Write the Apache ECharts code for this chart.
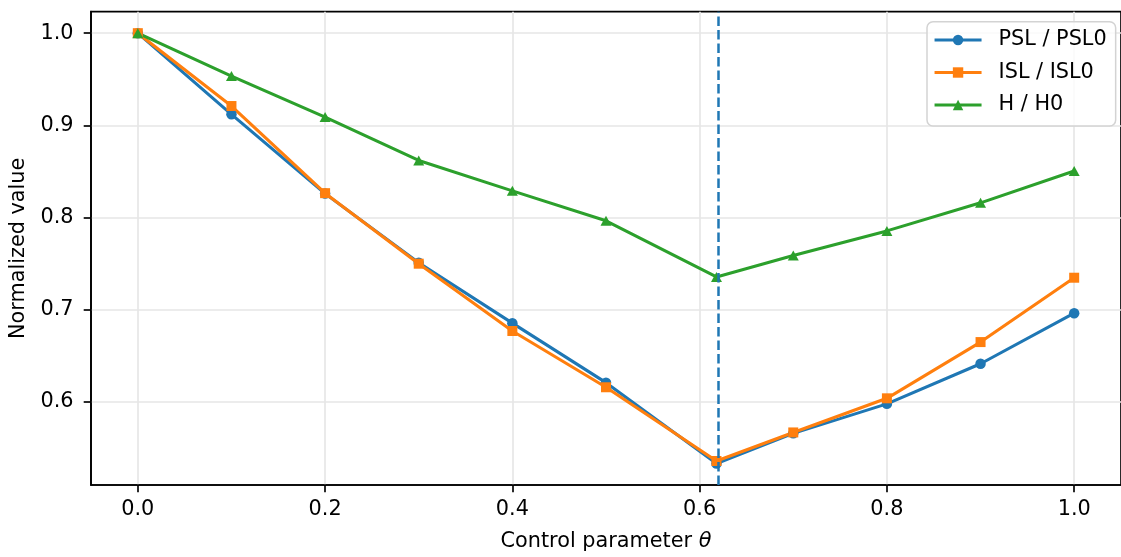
<!DOCTYPE html>
<html>
<head>
<meta charset="utf-8">
<script src="https://cdn.jsdelivr.net/npm/echarts@6/dist/echarts.min.js"></script>
<style>
html,body{margin:0;padding:0;background:#fff;}
#chart{width:1121px;height:557px;}
</style>
</head>
<body>
<div id="chart"></div>
<script>
// Data
const theta = [0.0, 0.1, 0.2, 0.3, 0.4, 0.5, 0.618, 0.7, 0.8, 0.9, 1.0];
const pslRatio = [1.0, 0.912, 0.826, 0.751, 0.6855, 0.621, 0.5333, 0.566, 0.598, 0.6415, 0.6963];
const islRatio = [1.0, 0.921, 0.8265, 0.750, 0.677, 0.616, 0.536, 0.567, 0.604, 0.665, 0.7348];
const hRatio = [1.0, 0.9535, 0.909, 0.862, 0.829, 0.7965, 0.7356, 0.7588, 0.7856, 0.816, 0.8506];
const seriesNames = ['PSL / PSL0', 'ISL / ISL0', 'H / H0'];
const xTicks = [0.0, 0.2, 0.4, 0.6, 0.8, 1.0];
const yTicks = [0.6, 0.7, 0.8, 0.9, 1.0];
const markTheta = 0.618;

const FONT = 'DejaVu Sans';
const FS = 20.8;
const zip = (xs, ys) => xs.map((x, i) => [x, ys[i]]);

const chart = echarts.init(document.getElementById('chart'), null, {renderer: 'canvas'});

function lineSeries(name, values, color, symbol, size) {
  return {
    name: name,
    type: 'line',
    data: zip(theta, values),
    symbol: symbol,
    symbolSize: size,
    showAllSymbol: true,
    lineStyle: {color: color, width: 3.1},
    itemStyle: {color: color},
    emphasis: {disabled: true},
    silent: true
  };
}

const s1 = lineSeries(seriesNames[0], pslRatio, '#1f77b4', 'circle', 10.5);
s1.markLine = {
  silent: true,
  symbol: ['none', 'none'],
  label: {show: false},
  lineStyle: {color: '#1f77b4', type: [9.5, 4], width: 2.5},
  data: [{xAxis: markTheta}]
};
const s2 = lineSeries(seriesNames[1], islRatio, '#ff7f0e', 'rect', 10);
const s3 = lineSeries(seriesNames[2], hRatio, '#2ca02c', 'triangle', [11, 10]);

const option = {
  animation: false,
  backgroundColor: '#ffffff',
  textStyle: {fontFamily: FONT},
  grid: {
    left: 91, top: 11.7, bottom: 66.3, right: -6,
    show: true, borderColor: '#000', borderWidth: 1.67,
    containLabel: false
  },
  xAxis: {
    type: 'value',
    min: -0.05, max: 1.05,
    name: 'Control parameter {i|θ}',
    nameLocation: 'middle',
    nameGap: 46,
    nameTextStyle: {
      fontFamily: FONT, fontSize: FS, color: '#000',
      rich: {i: {fontFamily: FONT, fontStyle: 'italic', fontSize: FS, color: '#000'}}
    },
    axisLine: {show: true, onZero: false, lineStyle: {color: '#000', width: 1.67}},
    axisTick: {show: true, length: 7.3, lineStyle: {color: '#000', width: 1.67}, customValues: xTicks},
    axisLabel: {
      customValues: xTicks, margin: 14,
      fontFamily: FONT, fontSize: FS, color: '#000',
      formatter: v => v.toFixed(1)
    },
    splitLine: {show: true, lineStyle: {color: '#e6e6e6', width: 1.67}}
  },
  yAxis: {
    type: 'value',
    min: 0.51, max: 1.0233,
    name: 'Normalized value',
    nameLocation: 'middle',
    nameGap: 59,
    nameTextStyle: {fontFamily: FONT, fontSize: FS, color: '#000'},
    axisLine: {show: true, onZero: false, lineStyle: {color: '#000', width: 1.67}},
    axisTick: {show: true, length: 7.3, lineStyle: {color: '#000', width: 1.67}, customValues: yTicks},
    axisLabel: {
      customValues: yTicks, margin: 17.5,
      fontFamily: FONT, fontSize: FS, color: '#000',
      formatter: v => v.toFixed(1)
    },
    splitLine: {show: true, lineStyle: {color: '#e6e6e6', width: 1.67}}
  },
  legend: {
    orient: 'vertical',
    left: 927, top: 21.7,
    padding: [7.8, 9, 10.5, 6],
    itemGap: 11.5,
    itemWidth: 47,
    itemHeight: 13,
    lineStyle: {width: 3.1},
    borderColor: '#d3d3d3',
    borderWidth: 1.5,
    borderRadius: 6,
    backgroundColor: 'rgba(255,255,255,0.8)',
    textStyle: {fontFamily: FONT, fontSize: FS, color: '#000', padding: [0, 0, 0, 12]},
    data: seriesNames
  },
  series: [s1, s2, s3]
};
chart.setOption(option);
</script>
</body>
</html>
